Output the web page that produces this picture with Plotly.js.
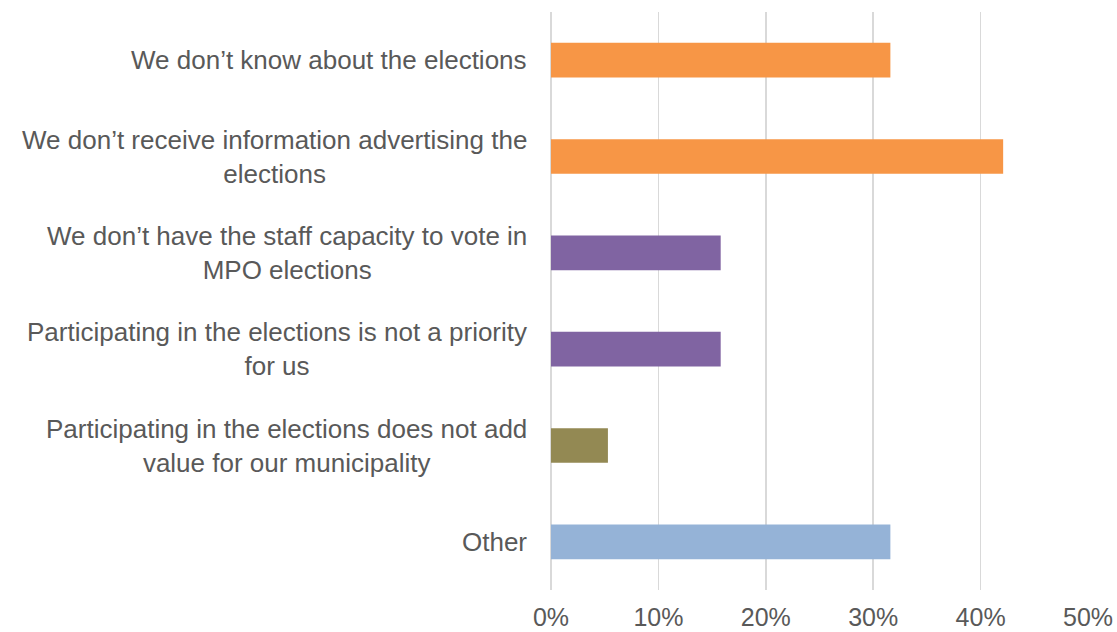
<!DOCTYPE html>
<html>
<head>
<meta charset="utf-8">
<script src="https://cdn.plot.ly/plotly-3.0.1.min.js"></script>
<style>html,body{margin:0;padding:0;background:#fff;}#chart{width:1117px;height:632px;}</style>
</head>
<body>
<div id="chart"></div>
<script>
const categories = [
  "We don’t know about the elections",
  "We don’t receive information advertising the elections",
  "We don’t have the staff capacity to vote in MPO elections",
  "Participating in the elections is not a priority for us",
  "Participating in the elections does not add value for our municipality",
  "Other"
];
const labels = [
  "We don’t know about the elections",
  "We don’t receive information advertising the<br>elections",
  "We don’t have the staff capacity to vote in<br>MPO elections",
  "Participating in the elections is not a priority<br>for us",
  "Participating in the elections does not add<br>value for our municipality",
  "Other"
];
const values = [0.316, 0.421, 0.158, 0.158, 0.053, 0.316];
const colors = ["#F79646", "#F79646", "#8064A2", "#8064A2", "#938953", "#95B3D7"];
const xTicks = [0, 0.1, 0.2, 0.3, 0.4, 0.5];

const font = {family: "Liberation Sans, Arial, sans-serif", size: 26, color: "#595959"};
const tickFont = {family: "Liberation Sans, Arial, sans-serif", size: 25, color: "#595959"};

const trace = {
  type: "bar",
  orientation: "h",
  y: categories,
  x: values,
  marker: {color: colors},
  hoverinfo: "x+y"
};

const annotations = categories.map((c, i) => ({
  xref: "paper", yref: "y",
  x: 0, y: c,
  xanchor: "right", yanchor: "middle",
  xshift: -22,
  align: "center",
  text: labels[i],
  showarrow: false,
  font: font
}));

const layout = {
  width: 1117, height: 632,
  margin: {l: 551, r: 29, t: 12, b: 42, pad: 0},
  paper_bgcolor: "#fff", plot_bgcolor: "#fff",
  bargap: 0.64,
  showlegend: false,
  font: font,
  xaxis: {
    range: [0, 0.5],
    tickvals: xTicks,
    tickformat: ".0%",
    showgrid: true, gridcolor: "#D9D9D9", gridwidth: 1.5,
    zeroline: true, zerolinecolor: "#D9D9D9", zerolinewidth: 1.5,
    showline: false,
    ticks: "",
    ticklabelstandoff: 10,
    tickfont: tickFont,
    fixedrange: true
  },
  yaxis: {
    type: "category",
    autorange: "reversed",
    showticklabels: false,
    showgrid: false, zeroline: false, showline: false,
    ticks: "",
    fixedrange: true
  },
  annotations: annotations
};

Plotly.newPlot("chart", [trace], layout, {displayModeBar: false, staticPlot: true});
</script>
</body>
</html>
